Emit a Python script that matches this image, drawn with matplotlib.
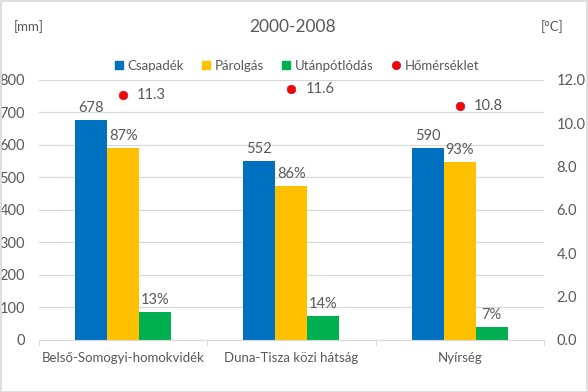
import numpy as np
import matplotlib
matplotlib.use('Agg')
import matplotlib.pyplot as plt
from matplotlib.lines import Line2D
from matplotlib.patches import Patch, Rectangle

# data
categories = ['Belső-Somogyi-homokvidék', 'Duna-Tisza közi hátság', 'Nyírség']
csapadek = [678, 552, 590]
parolgas = [591, 474, 549]
utanpotlodas = [85, 75, 39]
parolgas_pct = ['87%', '86%', '93%']
utanpotlodas_pct = ['13%', '14%', '7%']
homerseklet = [11.3, 11.6, 10.8]

GREY = '#595959'
GRID = '#D9D9D9'
FS = 9.5    # words
NFS = 10.5  # numbers
plt.rcParams['font.family'] = ['Lato', 'DejaVu Sans']
plt.rcParams['font.size'] = FS

fig = plt.figure(figsize=(5.88, 3.92), dpi=100)
ax1 = fig.add_axes([0.0663, 0.1327, 0.8588, 0.6633])
ax2 = ax1.twinx()

x = np.arange(len(categories))
w = 0.19
b1 = ax1.bar(x - w, csapadek, w, color='#0070C0', label='Csapadék', zorder=3)
b2 = ax1.bar(x, parolgas, w, color='#FFC000', label='Párolgás', zorder=3)
b3 = ax1.bar(x + w, utanpotlodas, w, color='#00B050', label='Utánpótlódás', zorder=3)

for bars, labels in ((b1, [str(v) for v in csapadek]), (b2, parolgas_pct), (b3, utanpotlodas_pct)):
    for rect, lab in zip(bars, labels):
        ax1.annotate(lab, (rect.get_x() + rect.get_width() / 2, rect.get_height()),
                     xytext=(0, 3.5), textcoords='offset points', ha='center', va='bottom',
                     color=GREY, fontsize=NFS)

ax2.scatter(x, homerseklet, s=38, color='#FF0000', edgecolors='#A0304A', linewidths=0.6, zorder=4)
for xi, t in zip(x, homerseklet):
    ax2.annotate(f'{t:.1f}', (xi, t), xytext=(10, 0), textcoords='offset points',
                 ha='left', va='center', color=GREY, fontsize=NFS)

ax1.set_xlim(-0.5, len(categories) - 0.5)
ax1.set_ylim(0, 800)
ax1.set_yticks(range(0, 801, 100))
ax2.set_ylim(0, 12)
ax2.set_yticks(np.arange(0, 12.1, 2))
ax2.set_yticklabels([f'{v:.1f}' for v in np.arange(0, 12.1, 2)])

ax1.set_xticks(x)
ax1.set_xticklabels(categories)
ax1.set_xticks(np.arange(-0.5, len(categories), 1), minor=True)
ax1.tick_params(axis='x', which='major', length=0, pad=9, colors=GREY, labelsize=FS)
ax1.tick_params(axis='x', which='minor', length=4, color=GRID)
ax1.tick_params(axis='y', length=0, pad=10, colors=GREY, labelsize=NFS)
ax2.tick_params(axis='y', length=0, pad=9, colors=GREY, labelsize=NFS)

ax1.grid(axis='y', color=GRID, linewidth=0.9, zorder=0)
ax1.set_axisbelow(True)
for ax in (ax1, ax2):
    for s in ('top', 'left', 'right'):
        ax.spines[s].set_visible(False)
    ax.spines['bottom'].set_color(GRID)

fig.text(0.498, 0.931, '2000-2008', ha='center', va='center', color=GREY, fontsize=12.5)
fig.text(0.024, 0.931, '[mm]', ha='left', va='center', color=GREY, fontsize=FS)
fig.text(0.958, 0.931, '[°C]', ha='right', va='center', color=GREY, fontsize=FS)

handles = [Patch(color='#0070C0'), Patch(color='#FFC000'), Patch(color='#00B050'),
           Line2D([], [], marker='o', linestyle='', markersize=6,
                  markerfacecolor='#FF0000', markeredgecolor='#A0304A', markeredgewidth=0.6)]
fig.legend(handles, ['Csapadék', 'Párolgás', 'Utánpótlódás', 'Hőmérséklet'],
           loc='center', bbox_to_anchor=(0.505, 0.832), ncol=4, frameon=False,
           handlelength=0.6, handleheight=0.6, handletextpad=0.35, columnspacing=1.4,
           labelcolor=GREY, fontsize=FS)

fig.patches.append(Rectangle((0.001, 0.001), 0.997, 0.997, transform=fig.transFigure,
                             fill=False, edgecolor=GRID, linewidth=1.2))

fig.savefig('out.png', dpi=100)
